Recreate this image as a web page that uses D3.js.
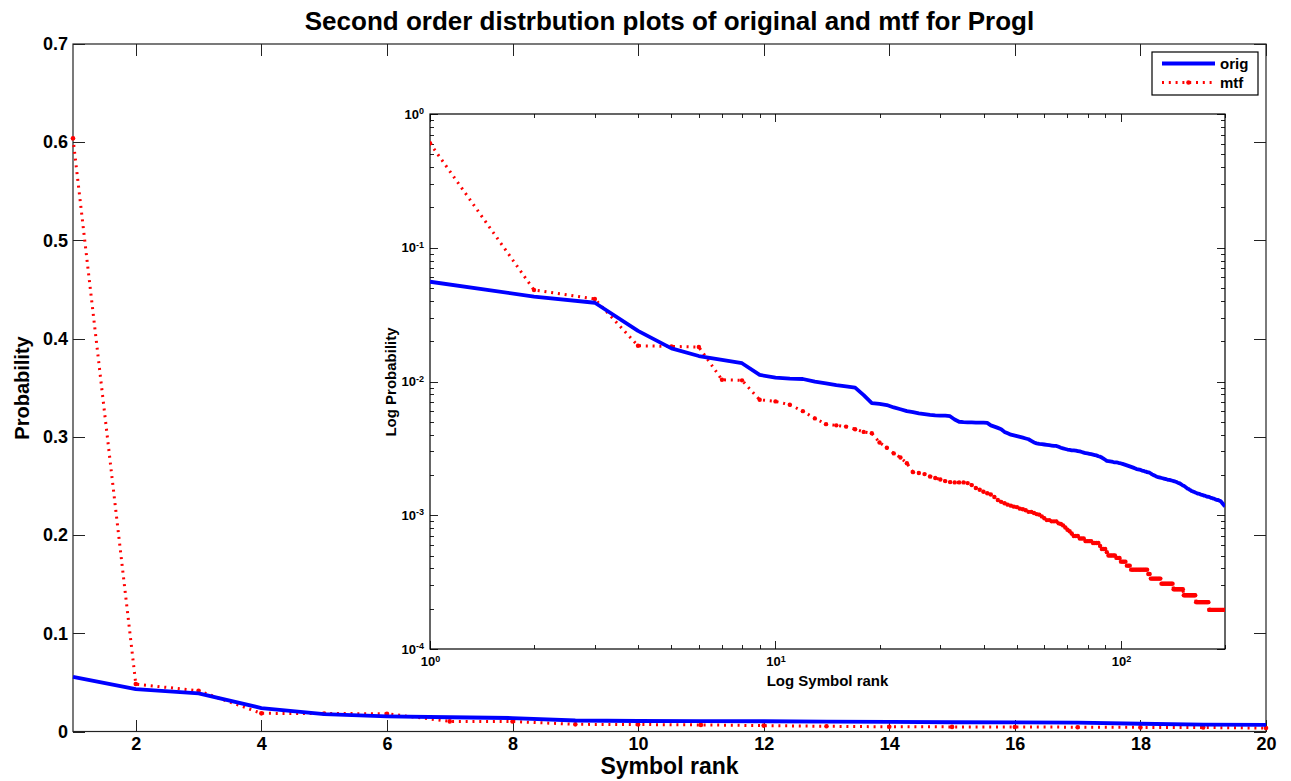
<!DOCTYPE html>
<html>
<head>
<meta charset="utf-8">
<script src="https://cdn.jsdelivr.net/npm/d3@7"></script>
<style>
  body { margin: 0; background: #fff; }
  svg text { font-family: "Liberation Sans", Arial, Helvetica, sans-serif; font-weight: bold; fill: #000; }
</style>
</head>
<body>
<svg id="chart" width="1291" height="781"></svg>
<script>
// Symbol rank probabilities, ranks 1..200
const orig = [
  0.0557, 0.0431, 0.0388, 0.0239, 0.0177, 0.0155, 0.0145, 0.0137, 0.0112, 0.0107,
  0.0105, 0.01044, 0.00997, 0.0097, 0.0094, 0.0092, 0.0090, 0.0079, 0.0069, 0.0068,
  0.00667, 0.0064, 0.0062, 0.0060, 0.0059, 0.00578, 0.0057, 0.00562, 0.00558, 0.00556,
  0.00555, 0.0055, 0.0052, 0.0050, 0.00497, 0.00495, 0.00494, 0.00493, 0.00492, 0.00492,
  0.0049, 0.0047, 0.0046, 0.0045, 0.0044, 0.0042, 0.0041, 0.0040, 0.00395, 0.0039,
  0.00385, 0.0038, 0.00375, 0.0037, 0.0036, 0.0035, 0.00345, 0.00342, 0.0034, 0.00338,
  0.00336, 0.00334, 0.00332, 0.0033, 0.0033, 0.00325, 0.0032, 0.00316, 0.00313, 0.0031,
  0.00308, 0.00306, 0.00305, 0.00304, 0.00302, 0.0030, 0.00297, 0.00294, 0.00291, 0.0029,
  0.00288, 0.00286, 0.00284, 0.00282, 0.0028, 0.00276, 0.00274, 0.0027, 0.00265, 0.0026,
  0.00255, 0.00254, 0.00253, 0.00252, 0.0025, 0.00249, 0.00248, 0.00247, 0.00245, 0.00244,
  0.00242, 0.00240, 0.00238, 0.00236, 0.00234, 0.00232, 0.00230, 0.00228, 0.00226, 0.00224,
  0.00221, 0.00220, 0.00219, 0.00218, 0.00216, 0.00215, 0.00213, 0.00212, 0.00210, 0.00209,
  0.00208, 0.00205, 0.00202, 0.00200, 0.00198, 0.00196, 0.00194, 0.00193, 0.00192, 0.00191,
  0.00190, 0.00189, 0.00188, 0.00187, 0.00186, 0.00185, 0.00184, 0.00184, 0.00183, 0.00182,
  0.00181, 0.00180, 0.00179, 0.00178, 0.00177, 0.00175, 0.00174, 0.00173, 0.00171, 0.00169,
  0.00167, 0.00166, 0.00164, 0.00162, 0.00160, 0.00158, 0.00157, 0.00155, 0.00154, 0.00152,
  0.00151, 0.00150, 0.00149, 0.00148, 0.00147, 0.00146, 0.00145, 0.00145, 0.00144, 0.00143,
  0.00142, 0.00142, 0.00141, 0.00140, 0.00140, 0.00139, 0.00138, 0.00138, 0.00137, 0.00137,
  0.00136, 0.00135, 0.00135, 0.00134, 0.00133, 0.00133, 0.00132, 0.00131, 0.00131, 0.00130,
  0.00130, 0.00129, 0.00128, 0.00128, 0.00126, 0.00124, 0.00122, 0.00120, 0.00118, 0.00117
];

const mtf = [
  0.604, 0.0483, 0.0414, 0.0185, 0.0183, 0.0181, 0.0103, 0.0102, 0.0073, 0.0071,
  0.0067, 0.0060, 0.0053, 0.0048, 0.0047, 0.0046, 0.0044, 0.0042, 0.0041, 0.0035,
  0.0032, 0.0029, 0.0027, 0.00245, 0.0021, 0.00207, 0.00203, 0.00195, 0.0019, 0.00185,
  0.0018, 0.00177, 0.00176, 0.00176, 0.00176, 0.00174, 0.00168, 0.00160, 0.00155, 0.00150,
  0.00146, 0.00143, 0.00137, 0.00130, 0.00126, 0.00123, 0.00120, 0.00118, 0.00116, 0.00115,
  0.00112, 0.00111, 0.00109, 0.00106, 0.00106, 0.00104, 0.00102, 0.00101, 0.00098, 0.00095,
  0.00092, 0.00092, 0.00090, 0.00090, 0.00090, 0.00087, 0.00086, 0.00084, 0.00081, 0.00078,
  0.00076, 0.00073, 0.00070, 0.00070, 0.00070, 0.00067, 0.00067, 0.00067, 0.00064, 0.00064,
  0.00064, 0.00064, 0.00062, 0.00062, 0.00062, 0.00062, 0.00059, 0.00056, 0.00056, 0.00056,
  0.00053, 0.00050, 0.00050, 0.00050, 0.00050, 0.00050, 0.00048, 0.00048, 0.00048, 0.00045,
  0.00045, 0.00045, 0.00045, 0.00042, 0.00042, 0.00042, 0.000392, 0.000392, 0.000392, 0.000392,
  0.000392, 0.000392, 0.000392, 0.000392, 0.000392, 0.000392, 0.000392, 0.000392, 0.000392, 0.000364,
  0.000364, 0.000336, 0.000336, 0.000336, 0.000336, 0.000336, 0.000336, 0.000336, 0.000336, 0.000336,
  0.000308, 0.000308, 0.000308, 0.000308, 0.000308, 0.000308, 0.000308, 0.000308, 0.000308, 0.000308,
  0.000308, 0.00028, 0.00028, 0.00028, 0.00028, 0.00028, 0.00028, 0.00028, 0.00028, 0.00028,
  0.00028, 0.000252, 0.000252, 0.000252, 0.000252, 0.000252, 0.000252, 0.000252, 0.000252, 0.000252,
  0.000252, 0.000252, 0.000252, 0.000252, 0.000224, 0.000224, 0.000224, 0.000224, 0.000224, 0.000224,
  0.000224, 0.000224, 0.000224, 0.000224, 0.000224, 0.000224, 0.000224, 0.000224, 0.000224, 0.000196,
  0.000196, 0.000196, 0.000196, 0.000196, 0.000196, 0.000196, 0.000196, 0.000196, 0.000196, 0.000196,
  0.000196, 0.000196, 0.000196, 0.000196, 0.000196, 0.000196, 0.000196, 0.000196, 0.000196, 0.000196
];

const ranks = d3.range(1, orig.length + 1);
const mainRankCount = 20;

// axis ticks and labels
const mainXTicks = [2, 4, 6, 8, 10, 12, 14, 16, 18, 20];
const mainYTicks = [0, 0.1, 0.2, 0.3, 0.4, 0.5, 0.6, 0.7];
const logXMajor = [1, 10, 100];
const logXMinor = [2, 3, 4, 5, 6, 7, 8, 9, 20, 30, 40, 50, 60, 70, 80, 90, 200];
const logYMajor = [1e-4, 1e-3, 1e-2, 1e-1, 1];
const logYMinor = [2e-4, 3e-4, 4e-4, 5e-4, 6e-4, 7e-4, 8e-4, 9e-4,
                   2e-3, 3e-3, 4e-3, 5e-3, 6e-3, 7e-3, 8e-3, 9e-3,
                   2e-2, 3e-2, 4e-2, 5e-2, 6e-2, 7e-2, 8e-2, 9e-2,
                   0.2, 0.3, 0.4, 0.5, 0.6, 0.7, 0.8, 0.9];
const seriesNames = ["orig", "mtf"];
const titleText = "Second order distrbution plots of original and mtf for Progl";

const BLUE = "#0000ff", RED = "#ff0000", AXIS = "#222";

const svg = d3.select("#chart");

// ---------- main axes ----------
const M = { left: 73, right: 1266, top: 44, bottom: 731.5 };
const x = d3.scaleLinear().domain([1, 20]).range([M.left, M.right]);
const y = d3.scaleLinear().domain([0, 0.7]).range([M.bottom, M.top]);

const gMain = svg.append("g");

function styleAxis(g, fontSize) {
  g.select(".domain").remove();
  g.selectAll(".tick line").attr("stroke", AXIS).attr("stroke-width", 1).attr("shape-rendering", "crispEdges");
  g.selectAll(".tick text").attr("font-size", fontSize).attr("font-family", null).attr("fill", "#000");
}

gMain.append("g").attr("transform", `translate(0,${M.bottom})`)
  .call(d3.axisBottom(x).tickValues(mainXTicks).tickSizeInner(-12).tickSizeOuter(0).tickPadding(6).tickFormat(d3.format("d")))
  .call(g => styleAxis(g, 18));
gMain.append("g").attr("transform", `translate(0,${M.top})`)
  .call(d3.axisTop(x).tickValues(mainXTicks).tickSizeInner(-12).tickSizeOuter(0).tickFormat(""))
  .call(g => styleAxis(g, 18));
gMain.append("g").attr("transform", `translate(${M.left},0)`)
  .call(d3.axisLeft(y).tickValues(mainYTicks).tickSizeInner(-12).tickSizeOuter(0).tickPadding(5)
        .tickFormat(d => d === 0 ? "0" : d3.format(".1f")(d)))
  .call(g => styleAxis(g, 18));
gMain.append("g").attr("transform", `translate(${M.right},0)`)
  .call(d3.axisRight(y).tickValues(mainYTicks).tickSizeInner(-12).tickSizeOuter(0).tickFormat(""))
  .call(g => styleAxis(g, 18));

gMain.append("rect")
  .attr("x", M.left).attr("y", M.top)
  .attr("width", M.right - M.left).attr("height", M.bottom - M.top)
  .attr("fill", "none").attr("stroke", AXIS).attr("stroke-width", 1.2);

const mainOrig = ranks.slice(0, mainRankCount).map((r, i) => [r, orig[i]]);
const mainMtf = ranks.slice(0, mainRankCount).map((r, i) => [r, mtf[i]]);
const lineMain = d3.line().x(d => x(d[0])).y(d => y(d[1]));

gMain.append("path").datum(mainMtf).attr("d", lineMain)
  .attr("fill", "none").attr("stroke", RED).attr("stroke-width", 3).attr("stroke-dasharray", "2,4.8");
gMain.append("g").selectAll("circle").data(mainMtf).join("circle")
  .attr("cx", d => x(d[0])).attr("cy", d => y(d[1])).attr("r", 2.3).attr("fill", RED);
gMain.append("path").datum(mainOrig).attr("d", lineMain)
  .attr("fill", "none").attr("stroke", BLUE).attr("stroke-width", 3.8).attr("stroke-linejoin", "round");

svg.append("text").attr("x", (M.left + M.right) / 2).attr("y", 30)
  .attr("text-anchor", "middle").attr("font-size", 26).text(titleText);
svg.append("text").attr("x", (M.left + M.right) / 2).attr("y", 774)
  .attr("text-anchor", "middle").attr("font-size", 23).text("Symbol rank");
svg.append("text").attr("transform", "translate(29,388) rotate(-90)")
  .attr("text-anchor", "middle").attr("font-size", 20).text("Probability");

// ---------- inset log-log axes ----------
const I = { left: 430, right: 1225, top: 114, bottom: 649 };
const xl = d3.scaleLog().domain([1, 200]).range([I.left, I.right]);
const yl = d3.scaleLog().domain([1e-4, 1]).range([I.bottom, I.top]);

const gIn = svg.append("g");
gIn.append("rect").attr("x", I.left).attr("y", I.top)
  .attr("width", I.right - I.left).attr("height", I.bottom - I.top).attr("fill", "#fff");

function powLabels(g) {
  g.selectAll(".tick text").each(function (d) {
    const t = d3.select(this);
    const e = Math.round(Math.log10(d));
    t.text(null);
    t.append("tspan").text("10");
    t.append("tspan").attr("dy", "-0.5em").attr("font-size", 9).text(e);
  });
}

// minor ticks on all four sides
gIn.append("g").attr("transform", `translate(0,${I.bottom})`)
  .call(d3.axisBottom(xl).tickValues(logXMinor).tickSizeInner(-4).tickSizeOuter(0).tickFormat(""))
  .call(g => styleAxis(g, 13));
gIn.append("g").attr("transform", `translate(0,${I.top})`)
  .call(d3.axisTop(xl).tickValues(logXMinor).tickSizeInner(-4).tickSizeOuter(0).tickFormat(""))
  .call(g => styleAxis(g, 13));
gIn.append("g").attr("transform", `translate(${I.left},0)`)
  .call(d3.axisLeft(yl).tickValues(logYMinor).tickSizeInner(-4).tickSizeOuter(0).tickFormat(""))
  .call(g => styleAxis(g, 13));
gIn.append("g").attr("transform", `translate(${I.right},0)`)
  .call(d3.axisRight(yl).tickValues(logYMinor).tickSizeInner(-4).tickSizeOuter(0).tickFormat(""))
  .call(g => styleAxis(g, 13));

// major ticks with power-of-ten labels
gIn.append("g").attr("transform", `translate(0,${I.bottom})`)
  .call(d3.axisBottom(xl).tickValues(logXMajor).tickSizeInner(-8).tickSizeOuter(0).tickPadding(8))
  .call(g => styleAxis(g, 13)).call(powLabels);
gIn.append("g").attr("transform", `translate(0,${I.top})`)
  .call(d3.axisTop(xl).tickValues(logXMajor).tickSizeInner(-8).tickSizeOuter(0).tickFormat(""))
  .call(g => styleAxis(g, 13));
gIn.append("g").attr("transform", `translate(${I.left},0)`)
  .call(d3.axisLeft(yl).tickValues(logYMajor).tickSizeInner(-8).tickSizeOuter(0).tickPadding(6))
  .call(g => styleAxis(g, 13)).call(powLabels);
gIn.append("g").attr("transform", `translate(${I.right},0)`)
  .call(d3.axisRight(yl).tickValues(logYMajor).tickSizeInner(-8).tickSizeOuter(0).tickFormat(""))
  .call(g => styleAxis(g, 13));

gIn.append("rect").attr("x", I.left).attr("y", I.top)
  .attr("width", I.right - I.left).attr("height", I.bottom - I.top)
  .attr("fill", "none").attr("stroke", "#000").attr("stroke-width", 1.2);

svg.append("defs").append("clipPath").attr("id", "insetClip")
  .append("rect").attr("x", I.left).attr("y", I.top)
  .attr("width", I.right - I.left).attr("height", I.bottom - I.top);

const inOrig = ranks.map((r, i) => [r, orig[i]]);
const inMtf = ranks.map((r, i) => [r, mtf[i]]);
const lineLog = d3.line().x(d => xl(d[0])).y(d => yl(d[1]));
const gLines = gIn.append("g").attr("clip-path", "url(#insetClip)");

gLines.append("path").datum(inMtf).attr("d", lineLog)
  .attr("fill", "none").attr("stroke", RED).attr("stroke-width", 3).attr("stroke-dasharray", "2,4.8");
gLines.append("g").selectAll("circle").data(inMtf).join("circle")
  .attr("cx", d => xl(d[0])).attr("cy", d => yl(d[1])).attr("r", 2.2).attr("fill", RED);
gLines.append("path").datum(inOrig).attr("d", lineLog)
  .attr("fill", "none").attr("stroke", BLUE).attr("stroke-width", 3.8).attr("stroke-linejoin", "round");

svg.append("text").attr("x", (I.left + I.right) / 2).attr("y", 686)
  .attr("text-anchor", "middle").attr("font-size", 15).text("Log Symbol rank");
svg.append("text").attr("transform", "translate(396,382) rotate(-90)")
  .attr("text-anchor", "middle").attr("font-size", 15).text("Log Probability");

// ---------- legend ----------
const L = { x: 1152, y: 52, w: 106, h: 43 };
const gLeg = svg.append("g");
gLeg.append("rect").attr("x", L.x).attr("y", L.y).attr("width", L.w).attr("height", L.h)
  .attr("fill", "#fff").attr("stroke", "#000").attr("stroke-width", 1.2);
const legRows = [
  { name: seriesNames[0], color: BLUE, dotted: false, cy: 63.5 },
  { name: seriesNames[1], color: RED, dotted: true, cy: 82.5 }
];
legRows.forEach(row => {
  const ln = gLeg.append("line").attr("x1", 1162).attr("x2", 1215)
    .attr("y1", row.cy).attr("y2", row.cy).attr("stroke", row.color);
  if (row.dotted) {
    ln.attr("stroke-width", 3).attr("stroke-dasharray", "2,4.8");
    gLeg.append("circle").attr("cx", 1188.5).attr("cy", row.cy).attr("r", 2.3).attr("fill", RED);
  } else {
    ln.attr("stroke-width", 3.8);
  }
  gLeg.append("text").attr("x", 1220).attr("y", row.cy + 5)
    .attr("font-size", 15).text(row.name);
});
</script>
</body>
</html>
